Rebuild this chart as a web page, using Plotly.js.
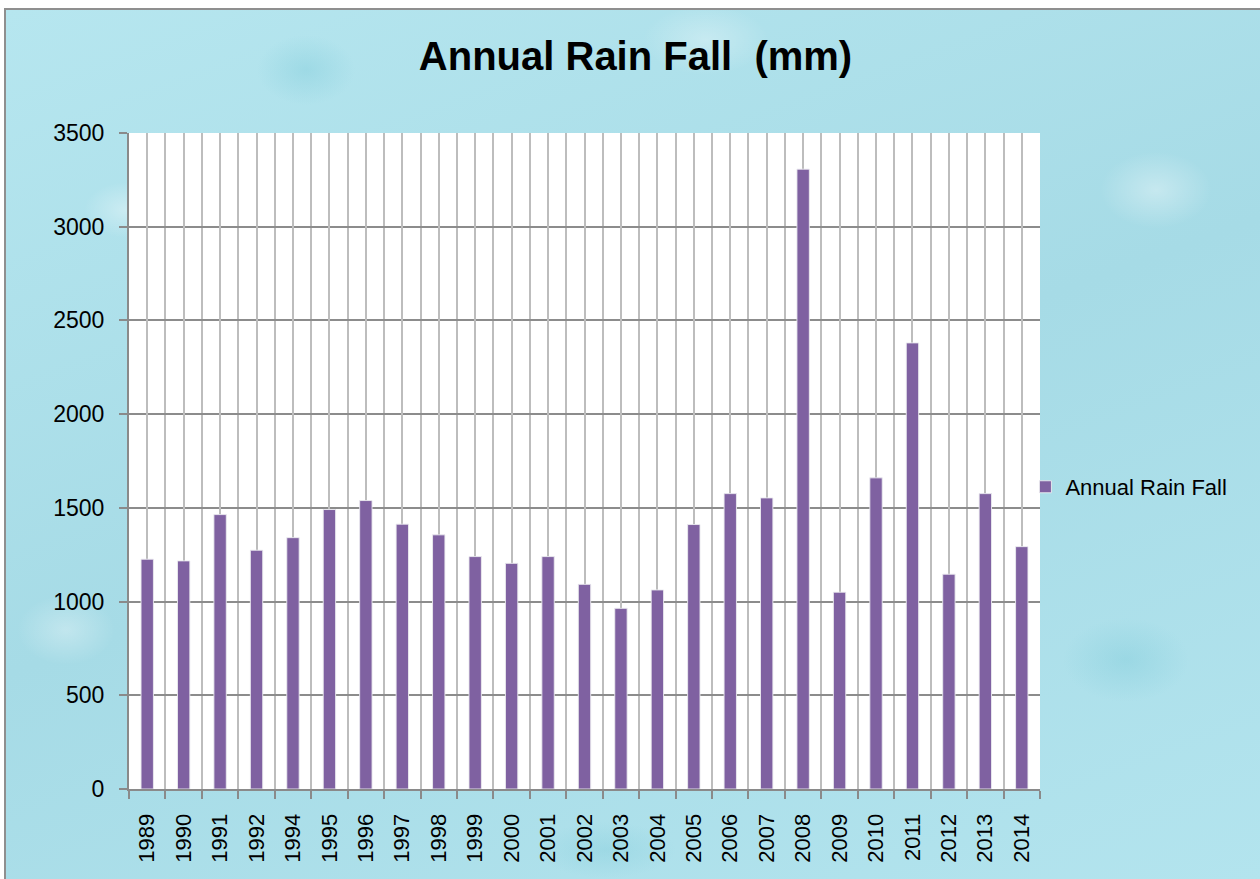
<!DOCTYPE html>
<html>
<head>
<meta charset="utf-8">
<script src="https://cdn.plot.ly/plotly-3.0.1.min.js"></script>
<style>
  html, body { margin: 0; padding: 0; background: #ffffff; width: 1260px; height: 879px; overflow: hidden; }
  #frame {
    position: absolute; left: 4px; top: 8px; width: 1256px; height: 871px;
    border-left: 2px solid #8f8f8f; border-top: 2px solid #8f8f8f;
    background-color: #ade1eb;
    background-image:
      radial-gradient(ellipse 60px 40px at 120px 200px, rgba(255,255,255,0.35), rgba(255,255,255,0) 70%),
      radial-gradient(ellipse 70px 50px at 300px 60px, rgba(120,200,215,0.35), rgba(120,200,215,0) 70%),
      radial-gradient(ellipse 80px 55px at 1150px 180px, rgba(255,255,255,0.35), rgba(255,255,255,0) 70%),
      radial-gradient(ellipse 90px 60px at 1120px 650px, rgba(120,200,215,0.35), rgba(120,200,215,0) 70%),
      radial-gradient(ellipse 70px 50px at 60px 620px, rgba(255,255,255,0.3), rgba(255,255,255,0) 70%),
      radial-gradient(ellipse 90px 50px at 700px 30px, rgba(255,255,255,0.3), rgba(255,255,255,0) 70%),
      radial-gradient(ellipse 100px 40px at 600px 840px, rgba(120,200,215,0.3), rgba(120,200,215,0) 70%),
      linear-gradient(160deg, #b6e6ef 0%, #a6dbe6 50%, #b3e4ee 100%);
  }
  #chart { position: absolute; left: 0; top: 0; width: 1254px; height: 869px; }
</style>
</head>
<body>
<div id="frame"><div id="chart"></div></div>
<script>
const years = ['1989','1990','1991','1992','1994','1995','1996','1997','1998','1999','2000','2001','2002','2003','2004','2005','2006','2007','2008','2009','2010','2011','2012','2013','2014'];
const rainfall = [1226,1217,1464,1274,1341,1491,1539,1413,1356,1240,1204,1240,1092,964,1062,1411,1576,1553,3307,1050,1660,2380,1146,1576,1293];
const seriesName = 'Annual Rain Fall';
const chartTitle = 'Annual Rain Fall\u00a0 (mm)';
const yTicks = [0,500,1000,1500,2000,2500,3000,3500];

const font = 'Liberation Sans, Arial, sans-serif';

const traces = [
  {
    type: 'bar', x: years, y: rainfall, name: seriesName,
    marker: { color: '#7f61a1', line: { color: 'rgba(235,235,240,0.9)', width: 1 } },
    xaxis: 'x', yaxis: 'y', hoverinfo: 'x+y'
  },
  {
    type: 'scatter', mode: 'none', x: years, y: rainfall.map(() => null),
    xaxis: 'x2', yaxis: 'y', showlegend: false, hoverinfo: 'skip'
  }
];

const layout = {
  width: 1254, height: 869,
  paper_bgcolor: 'rgba(0,0,0,0)',
  plot_bgcolor: '#ffffff',
  margin: { l: 123, r: 220, t: 123, b: 90 },
  font: { family: font, size: 22, color: '#000000' },
  title: {
    text: chartTitle,
    font: { family: font, size: 40, color: '#000000', weight: 'bold' },
    xref: 'container', x: 0.502, xanchor: 'center',
    yref: 'container', y: 0.947, yanchor: 'middle'
  },
  bargap: 0.66,
  showlegend: true,
  legend: {
    x: 0.984, xanchor: 'left', y: 0.4604, yanchor: 'middle',
    bgcolor: 'rgba(0,0,0,0)', borderwidth: 0,
    font: { family: font, size: 22, color: '#000000' }
  },
  xaxis: {
    type: 'category', categoryorder: 'array', categoryarray: years,
    tickson: 'boundaries', ticks: 'outside', ticklen: 8, tickwidth: 2, tickcolor: '#8a8a8a',
    showgrid: true, gridcolor: '#bdbdbd', gridwidth: 2,
    showline: true, linecolor: '#8a8a8a', linewidth: 2,
    tickangle: -90, tickfont: { family: font, size: 22 },
    ticklabelstandoff: 14,
    fixedrange: true
  },
  xaxis2: {
    type: 'category', categoryorder: 'array', categoryarray: years,
    overlaying: 'x', matches: 'x',
    showgrid: true, gridcolor: '#bdbdbd', gridwidth: 2,
    showticklabels: false, ticks: '', showline: false, zeroline: false,
    fixedrange: true
  },
  yaxis: {
    range: [0, 3500], tickvals: yTicks, ticktext: yTicks.map(String),
    ticks: 'outside', ticklen: 8, tickwidth: 2, tickcolor: '#8a8a8a',
    showgrid: true, gridcolor: '#8c8c8c', gridwidth: 2,
    showline: true, linecolor: '#8a8a8a', linewidth: 2,
    zeroline: false, tickfont: { family: font, size: 23 },
    ticklabelstandoff: 10,
    fixedrange: true
  }
};

Plotly.newPlot('chart', traces, layout, { displayModeBar: false, staticPlot: true });
</script>
</body>
</html>
